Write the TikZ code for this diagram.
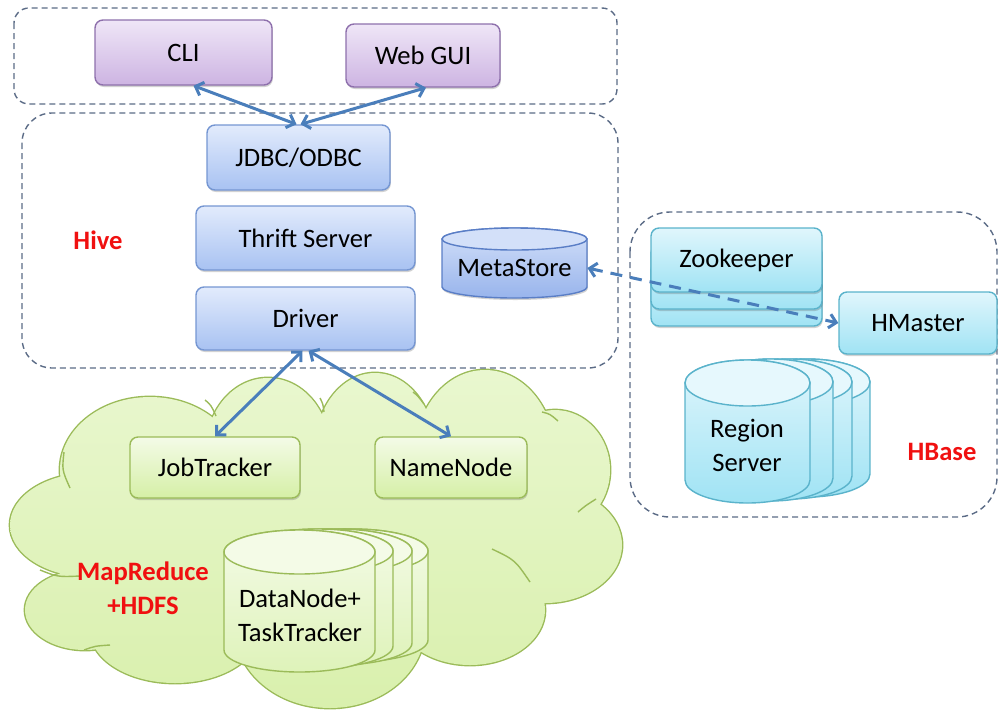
\documentclass[tikz,border=0pt]{standalone}
\usepackage{fontspec}
\setmainfont{Carlito}
\usetikzlibrary{arrows.meta,shadows}

\definecolor{grpline}{HTML}{5B6B86}
\definecolor{lnk}{HTML}{4A7EBB}
\definecolor{labred}{HTML}{F01010}
\definecolor{purtop}{HTML}{EFE6F7}
\definecolor{purbot}{HTML}{CDB4E2}
\definecolor{purln}{HTML}{8E70AC}
\definecolor{blutop}{HTML}{E2EBFC}
\definecolor{blubot}{HTML}{A8C2F2}
\definecolor{bluln}{HTML}{7596D2}
\definecolor{mettop}{HTML}{D3E0F9}
\definecolor{metbot}{HTML}{98B4EC}
\definecolor{metln}{HTML}{5A7EC6}
\definecolor{cyntop}{HTML}{E0F6FC}
\definecolor{cynbot}{HTML}{A0E3F4}
\definecolor{cynln}{HTML}{5AB3CB}
\definecolor{grntop}{HTML}{F4FBE7}
\definecolor{grnbot}{HTML}{D5EFA6}
\definecolor{grnln}{HTML}{9BBB59}
\definecolor{cloudtop}{HTML}{E9F7CF}
\definecolor{cloudbot}{HTML}{D9F0AD}

% cylinder: centre x, top-lid y, x radius, y radius, bottom-lid y, body style, lid style
\newcommand{\drum}[7]{%
  \path[#6] ({#1-#3},{#2}) -- ({#1-#3},{#5})
    arc[start angle=180,end angle=0,x radius=#3,y radius=#4]
    -- ({#1+#3},{#2})
    arc[start angle=0,end angle=-180,x radius=#3,y radius=#4] -- cycle;
  \path[#7] (#1,#2) ellipse[x radius=#3,y radius=#4];
}

\begin{document}
\begin{tikzpicture}[x=0.5pt,y=-0.5pt,
  font=\fontsize{13.3}{17}\selectfont,
  group/.style={draw=grpline, line width=0.7pt, dash pattern=on 3pt off 2pt},
  softshadow/.style={drop shadow={shadow xshift=0.4pt, shadow yshift=-1pt, opacity=0.25, fill=black!70}},
  box/.style={rounded corners=4pt, line width=0.7pt, inner sep=0pt, align=center, softshadow},
  purplebox/.style={box, draw=purln, top color=purtop, bottom color=purbot},
  bluebox/.style={box, draw=bluln, top color=blutop, bottom color=blubot},
  cyanbox/.style={box, draw=cynln, top color=cyntop, bottom color=cynbot},
  greenbox/.style={box, draw=grnln, top color=grntop, bottom color=grnbot},
  metabody/.style={draw=metln, line width=0.7pt, top color=mettop, bottom color=metbot, softshadow},
  metalid/.style={draw=metln, line width=0.7pt, fill=mettop},
  cyanbody/.style={draw=cynln, line width=0.7pt, top color=cyntop, bottom color=cynbot},
  cyanlid/.style={draw=cynln, line width=0.7pt, fill=cyntop!80!white},
  greenbody/.style={draw=grnln, line width=0.7pt, top color=grntop, bottom color=grnbot!70!grntop},
  greenlid/.style={draw=grnln, line width=0.7pt, fill=grntop},
  label/.style={text=labred, font=\fontsize{13.3}{17}\selectfont\bfseries, align=center},
  link/.style={draw=lnk, line width=1.5pt, {Straight Barb[length=3.5pt,width=7pt]}-{Straight Barb[length=3.5pt,width=7pt]}},
  dashlink/.style={link, dash pattern=on 6pt off 4pt},
  cloudedge/.style={draw=grnln, line width=1.4pt},
  cloudbody/.style={top color=cloudtop, bottom color=cloudbot},
  cloudcrease/.style={draw=grnln, line width=0.7pt}
]
\useasboundingbox (0,0) rectangle (1000,713);

% ---------- MapReduce / HDFS cloud ----------
\def\puffs{90/525/80/52, 150/470/90/73, 268/450/62/72, 375/450/60/77,
  485/455/70/85, 555/470/55/60, 545/545/77/58, 470/610/75/55,
  330/628/95/80, 175/630/85/53, 85/610/60/40, 320/535/240/105}
\foreach \cx/\cy/\rx/\ry in \puffs
  \path[cloudedge] (\cx,\cy) ellipse[x radius=\rx, y radius=\ry];
\path[cloudbody] \foreach \cx/\cy/\rx/\ry in \puffs
  { (\cx,\cy) ellipse[x radius=\rx, y radius=\ry] };
% creases where the puffs meet
\draw[cloudcrease] (64,452) .. controls (62,470) .. (70,488);
\draw[cloudcrease] (205,400) .. controls (211,405) .. (216,416);
\draw[cloudcrease] (40,570) .. controls (58,577) .. (80,576);
\draw[cloudcrease] (84,650) .. controls (95,646) .. (110,645);
\draw[cloudcrease] (320,398) .. controls (323,404) .. (324,412);
\draw[cloudcrease] (413,392) .. controls (418,396) .. (424,404);
\draw[cloudcrease] (542,412) .. controls (550,414) .. (558,421);
\draw[cloudcrease] (578,512) .. controls (585,506) .. (596,499);
\draw[cloudcrease] (492,549) .. controls (515,560) .. (530,582);

% ---------- group frames ----------
\draw[group, rounded corners=7.5pt] (14,8) rectangle (617,104);
\draw[group, rounded corners=15pt] (22,113) rectangle (618,368);
\draw[group, rounded corners=20pt] (630,212) rectangle (997,517);

% ---------- clients ----------
\node[purplebox, minimum width=88.5pt, minimum height=32.5pt] (cli) at (183.5,52.5) {CLI};
\node[purplebox, minimum width=77pt, minimum height=31.5pt] (webgui) at (423,55.5) {Web GUI};

% ---------- Hive ----------
\node[bluebox, minimum width=91.5pt, minimum height=32.5pt] (jdbc) at (298.5,157.5) {JDBC/ODBC};
\node[bluebox, minimum width=109.5pt, minimum height=32pt] (thrift) at (305.5,238) {Thrift Server};
\node[bluebox, minimum width=109.5pt, minimum height=31.5pt] (driver) at (305.5,318.5) {Driver};
\node[label] (hive) at (98,240) {Hive};

\drum{514.5}{239}{72.5}{11}{287}{metabody}{metalid}
\node[minimum width=72.5pt, inner sep=0pt] (meta) at (514.5,268) {MetaStore};

% ---------- HBase ----------
\node[cyanbox, minimum width=85.5pt, minimum height=32pt] (zk3) at (736.5,294) {};
\node[cyanbox, minimum width=85.5pt, minimum height=32pt] (zk2) at (736.5,277) {};
\node[cyanbox, minimum width=85.5pt, minimum height=32pt] (zk) at (736.5,260) {Zookeeper};
\node[cyanbox, minimum width=79pt, minimum height=31pt] (hmaster) at (918,323) {HMaster};

\drum{807.5}{382}{62.5}{23}{474}{cyanbody}{cyanlid}
\drum{789.5}{382}{62.5}{23}{476}{cyanbody}{cyanlid}
\drum{770.5}{382}{62.5}{23}{478}{cyanbody}{cyanlid}
\drum{747.5}{383}{62.5}{23}{480}{cyanbody}{cyanlid}
\node[align=center] (region) at (747,445) {Region\\Server};
\node[label] (hbase) at (942,452) {HBase};

% ---------- MapReduce / HDFS ----------
\node[greenbox, minimum width=85pt, minimum height=30.5pt] (jobtracker) at (215,467.5) {JobTracker};
\node[greenbox, minimum width=76pt, minimum height=30.5pt] (namenode) at (451,467.5) {NameNode};

\drum{352.5}{551}{75.5}{22}{640}{greenbody}{greenlid}
\drum{336.5}{551}{75.5}{22}{643}{greenbody}{greenlid}
\drum{317.5}{551}{75.5}{22}{646}{greenbody}{greenlid}
\drum{299.5}{552}{75.5}{22}{650}{greenbody}{greenlid}
\node[align=center] (datanode) at (300,615) {DataNode+\\TaskTracker};
\node[label] (mr) at (143,588) {MapReduce\\+HDFS};

% ---------- connectors ----------
\draw[link] ([xshift=5pt]cli.south) -- ([xshift=-1pt]jdbc.north);
\draw[link] ([xshift=1.5pt]webgui.south) -- ([xshift=1pt]jdbc.north);
\draw[link] ([xshift=-1.5pt]driver.south) -- (jobtracker.north);
\draw[link] ([xshift=1.5pt]driver.south) -- (namenode.north);
\draw[dashlink] (meta.east) -- (hmaster.west);
\end{tikzpicture}
\end{document}
